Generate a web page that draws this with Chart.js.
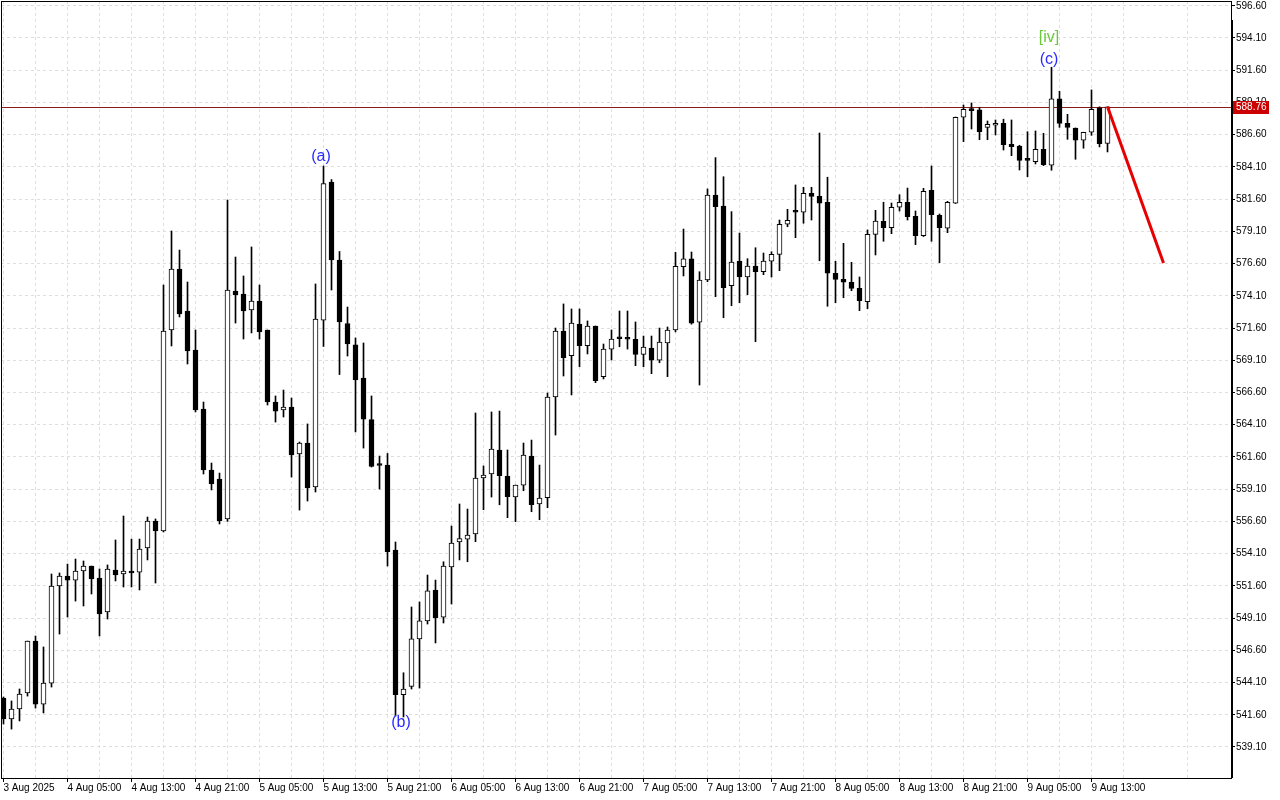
<!DOCTYPE html>
<html><head><meta charset="utf-8">
<script src="https://cdn.jsdelivr.net/npm/chart.js@4.4.1/dist/chart.umd.min.js"></script>
<style>html,body{margin:0;padding:0;background:#fff;overflow:hidden}canvas{display:block}</style>
</head><body>
<canvas id="c" width="1280" height="800"></canvas>
<script>
const opens = [
542.90,541.27,542.05,543.29,547.32,542.43,544.06,551.59,552.36,552.05,
552.75,553.14,552.21,549.57,552.83,552.52,552.75,552.67,554.54,556.63,
555.86,571.45,576.18,572.92,569.90,565.32,560.59,559.89,556.79,574.47,
574.24,573.00,573.70,571.45,565.86,565.24,565.47,561.83,562.68,559.27,
572.22,582.93,576.88,571.95,570.29,567.72,564.50,561.05,560.97,554.38,
543.16,543.79,547.49,548.89,551.28,549.18,553.06,555.00,555.23,555.62,
559.97,560.28,562.14,560.12,558.49,559.42,561.67,557.95,558.44,566.25,
571.37,569.46,571.91,570.23,571.76,567.83,569.97,570.88,570.88,570.73,
569.56,570.05,569.10,570.44,571.45,576.36,576.96,572.05,575.33,581.92,
581.07,574.88,576.80,575.56,576.41,575.97,576.78,577.32,579.65,580.73,
580.58,582.05,581.82,581.36,575.85,575.38,575.15,574.68,573.64,578.87,
579.88,579.38,580.97,581.36,580.27,578.76,582.29,580.35,579.34,581.28,
587.96,588.57,588.52,587.17,587.33,587.48,585.86,585.72,584.69,584.51,
585.47,584.23,589.39,587.48,587.12,586.17,586.79,588.69,585.93];
const highs = [
542.98,542.67,543.60,547.32,547.71,546.86,552.52,552.60,553.29,553.68,
553.53,553.14,552.91,553.22,555.16,557.02,555.23,555.23,556.94,556.79,
574.94,579.13,577.65,575.17,571.45,565.86,561.13,560.35,581.53,577.11,
575.64,577.89,574.94,571.45,566.33,566.79,566.17,562.76,564.16,575.02,
584.17,583.12,577.54,573.23,570.83,570.44,566.33,561.67,561.87,555.00,
544.86,549.96,550.35,552.44,552.05,553.47,556.24,557.95,557.56,565.01,
560.90,565.09,565.16,562.14,559.42,562.68,562.91,560.97,566.56,571.60,
573.47,573.08,573.08,572.15,571.76,570.36,571.45,572.92,572.92,572.07,
570.98,570.98,571.60,571.68,577.48,579.28,577.50,575.97,582.39,584.82,
583.34,580.63,578.97,576.98,577.83,577.42,577.52,579.98,580.81,582.70,
582.52,582.52,586.73,583.30,576.78,578.17,576.70,575.56,579.21,580.73,
581.36,581.30,581.94,582.46,580.68,582.44,584.17,580.45,581.43,587.97,
588.90,589.06,588.73,587.66,587.74,587.80,587.74,585.78,586.83,586.89,
586.71,591.83,589.97,588.18,587.12,586.79,590.07,588.76,588.76];
const lows = [
540.88,540.49,541.12,543.05,542.12,541.74,543.75,547.86,549.18,550.42,
550.04,550.97,547.71,549.03,551.98,551.51,551.51,551.28,553.61,551.82,
555.78,570.21,572.46,568.81,565.09,560.28,559.04,556.40,556.60,571.99,
570.75,571.22,570.75,565.63,564.31,564.70,560.04,557.48,558.18,558.88,
570.17,574.55,567.99,569.43,563.54,562.29,560.82,559.11,553.14,541.50,
541.43,543.60,543.67,548.64,547.17,548.72,550.19,553.61,553.47,555.03,
557.51,558.49,557.89,556.89,556.58,558.98,557.35,556.73,557.66,563.30,
567.88,566.41,568.60,569.59,567.36,567.65,569.12,570.15,569.97,568.68,
568.60,568.06,568.91,567.83,571.30,575.64,571.90,567.18,575.20,574.03,
572.40,573.33,573.57,574.19,570.54,575.74,575.56,576.05,579.46,578.61,
579.73,579.98,576.82,573.29,573.57,573.95,574.50,572.95,573.10,577.27,
578.33,578.92,580.68,579.98,578.07,578.70,578.33,576.67,579.00,581.26,
586.06,587.04,586.21,586.21,586.58,585.41,584.97,583.86,583.34,584.33,
584.20,583.84,587.17,586.24,584.69,585.55,586.55,585.65,585.26];
const closes = [
541.27,542.05,543.21,547.32,542.43,544.06,551.59,552.36,552.05,552.75,
553.14,552.13,549.42,552.91,552.44,552.75,552.60,554.46,556.63,555.86,
571.37,576.18,572.69,569.82,565.24,560.59,559.50,556.63,574.55,574.16,
572.92,573.70,571.29,565.86,565.16,565.47,561.75,562.68,559.19,572.30,
582.81,576.88,572.07,570.36,567.57,564.54,560.86,560.94,554.26,543.16,
543.60,547.49,548.89,551.22,549.11,553.14,554.92,555.26,555.54,559.97,
560.20,562.22,560.15,558.52,559.42,561.75,557.89,558.41,566.25,571.37,
569.30,571.99,570.23,571.76,567.51,569.97,570.75,570.77,570.73,569.56,
570.13,569.10,570.52,571.45,576.39,576.96,571.97,575.33,581.92,581.01,
574.73,576.72,575.56,576.41,575.97,576.80,577.32,579.65,579.96,580.58,
582.05,581.82,581.28,575.85,575.38,575.15,574.68,573.72,578.87,579.90,
579.38,580.97,581.36,580.24,578.76,582.21,580.39,579.38,581.36,587.95,
588.57,588.46,586.83,587.41,587.48,585.82,585.67,584.61,584.61,585.47,
584.27,589.39,587.48,587.17,586.17,586.79,588.57,585.90,588.76];

const xTickLabels = ['3 Aug 2025','4 Aug 05:00','4 Aug 13:00','4 Aug 21:00','5 Aug 05:00','5 Aug 13:00',
  '5 Aug 21:00','6 Aug 05:00','6 Aug 13:00','6 Aug 21:00','7 Aug 05:00','7 Aug 13:00','7 Aug 21:00',
  '8 Aug 05:00','8 Aug 13:00','8 Aug 21:00','9 Aug 05:00','9 Aug 13:00'];
const yTickValues = [539.10,541.60,544.10,546.60,549.10,551.60,554.10,556.60,559.10,561.60,564.10,566.60,
  569.10,571.60,574.10,576.60,579.10,581.60,584.10,586.60,589.10,591.60,594.10,596.60];
const forecastX = [138, 145];
const forecastY = [588.76, 576.65];
const waveText = ['(a)', '(b)', '(c)', '[iv]'];
const waveIndex = [40, 50, 131, 131];
const waveAt = ['high', 'low', 'high', 'high'];
const lastPrice = closes[closes.length - 1];

const X_MIN = -0.3125, X_MAX = 153.4375, Y_MIN = 536.695, Y_MAX = 596.970;
const FONT = "'Liberation Sans', Arial, sans-serif";

const idx = opens.map((_, i) => i);
const wickData = idx.map(i => ({x: i, y: [lows[i], highs[i]]}));
const bodyData = idx.map(i => ({x: i, y: [opens[i], closes[i]]}));
const forecastData = forecastX.map((x, k) => ({x, y: forecastY[k]}));

const waveStyle = {
  '(a)': {color: '#2b2bff', dy: -9},
  '(b)': {color: '#2b2bff', dy: 6},
  '(c)': {color: '#2b2bff', dy: -8},
  '[iv]': {color: '#6cc83c', dy: -30}
};

const decor = {
  id: 'decor',
  beforeDatasetsDraw(chart) {
    const {ctx, chartArea: a, scales: {y}} = chart;
    const py = Math.round(y.getPixelForValue(lastPrice)) + 0.5;
    ctx.save();
    ctx.strokeStyle = '#8a1c1c';
    ctx.lineWidth = 1;
    ctx.beginPath(); ctx.moveTo(a.left, py); ctx.lineTo(a.right, py); ctx.stroke();
    ctx.restore();
  },
  afterDatasetsDraw(chart) {
    const {ctx, scales: {x, y}} = chart;
    ctx.save();
    ctx.font = '16px ' + FONT;
    ctx.textAlign = 'center';
    ctx.textBaseline = 'middle';
    waveText.forEach((t, k) => {
      const i = waveIndex[k];
      const v = waveAt[k] === 'high' ? highs[i] : lows[i];
      const st = waveStyle[t];
      ctx.fillStyle = st.color;
      ctx.fillText(t, x.getPixelForValue(i) - 2.5, y.getPixelForValue(v) + st.dy);
    });
    ctx.restore();
  },
  afterDraw(chart) {
    const {ctx, chartArea: a, scales: {y}} = chart;
    ctx.save();
    ctx.strokeStyle = '#000';
    ctx.lineWidth = 1;
    ctx.strokeRect(a.left + 0.5, a.top + 0.5, a.right - a.left, a.bottom - a.top);
    ctx.fillStyle = '#000';
    ctx.fillRect(a.right, 20, 2, a.bottom - 20);
    const py = Math.round(y.getPixelForValue(lastPrice));
    ctx.fillStyle = '#cc0000';
    ctx.fillRect(a.right + 2, py - 6, 36, 13);
    ctx.fillStyle = '#fff';
    ctx.font = '10px ' + FONT;
    ctx.textAlign = 'left';
    ctx.textBaseline = 'middle';
    ctx.fillText(lastPrice.toFixed(2), a.right + 5, py + 0.5);
    ctx.restore();
  }
};

new Chart(document.getElementById('c'), {
  type: 'bar',
  data: {
    datasets: [
      {
        type: 'line', data: forecastData, borderColor: '#e80000', borderWidth: 3,
        pointRadius: 0, order: 0, clip: false
      },
      {
        data: bodyData, grouped: false, order: 1, barThickness: 5, borderWidth: 1,
        borderColor: '#000', borderSkipped: false, minBarLength: 2,
        backgroundColor: c => (closes[c.dataIndex] >= opens[c.dataIndex] ? '#ffffff' : '#000000')
      },
      {
        data: wickData, grouped: false, order: 2, barThickness: 1, borderWidth: 0,
        backgroundColor: '#000'
      }
    ]
  },
  options: {
    responsive: false,
    animation: false,
    events: [],
    layout: {padding: {left: 1, top: 1, right: 0, bottom: 0}},
    plugins: {legend: {display: false}, tooltip: {enabled: false}},
    scales: {
      x: {
        type: 'linear', min: X_MIN, max: X_MAX, offset: false,
        afterBuildTicks: ax => { const t = []; for (let v = 0; v <= X_MAX; v += 4) t.push({value: v}); ax.ticks = t; },
        afterFit: s => { s.height = 22; s.paddingLeft = 0; s.paddingRight = 0; },
        grid: {
          offset: false, color: '#dedede', lineWidth: 1, tickLength: 4,
          tickColor: c => (c.tick && c.tick.value % 8 === 0 ? '#000' : 'rgba(0,0,0,0)')
        },
        border: {display: true, color: '#000', width: 1, dash: [3, 3]},
        ticks: {
          autoSkip: false, maxRotation: 0, minRotation: 0, align: 'start', padding: 0,
          color: '#000', font: {family: FONT, size: 10},
          callback: v => (v % 8 === 0 ? xTickLabels[v / 8] : '')
        }
      },
      y: {
        type: 'linear', position: 'right', min: Y_MIN, max: Y_MAX,
        afterBuildTicks: ax => { ax.ticks = yTickValues.map(v => ({value: v})); },
        afterFit: s => { s.width = 49; s.paddingTop = 0; s.paddingBottom = 0; },
        grid: {color: '#dedede', lineWidth: 1, tickLength: 4, tickColor: '#000'},
        border: {display: true, color: '#000', width: 1, dash: [3, 3]},
        ticks: {
          padding: 1, color: '#000', font: {family: FONT, size: 10},
          callback: v => Number(v).toFixed(2)
        }
      }
    }
  },
  plugins: [decor]
});
</script>
</body></html>
